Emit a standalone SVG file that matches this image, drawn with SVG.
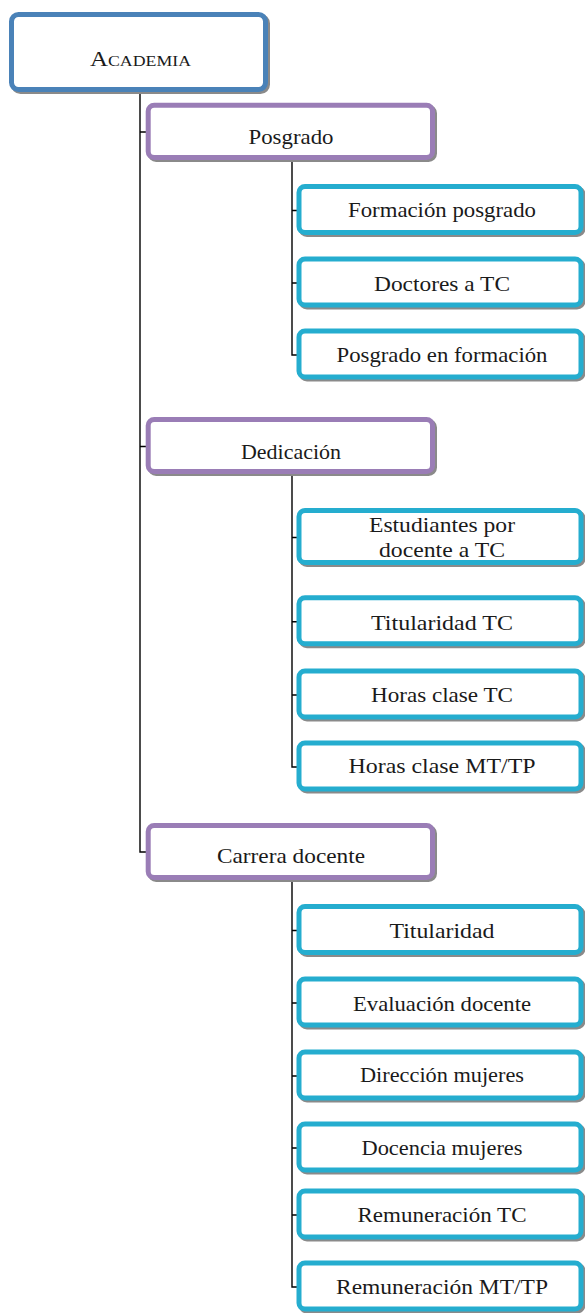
<svg xmlns="http://www.w3.org/2000/svg" width="585" height="1313" viewBox="0 0 585 1313">
<style>
.sh{fill:#8a8a8a;stroke:#8a8a8a;stroke-width:5}
.root{fill:#fff;stroke:#4a82b8;stroke-width:5}
.mid{fill:#fff;stroke:#9a7db6;stroke-width:5}
.leaf{fill:#fff;stroke:#25adcf;stroke-width:5}
text{font-family:"Liberation Serif","Times New Roman",serif;font-size:21px;fill:#1a1a1a;text-anchor:middle}
.sc{font-variant:small-caps}
.c{fill:none;stroke:#000;stroke-width:1.4}
</style>
<defs>
<rect id="lf" x="299" y="-24" width="282" height="46" rx="6"/>
</defs>
<g id="connectors">
<path class="c" d="M140,92V852H148M140,132H148M140,446.5H148"/>
<path class="c" d="M292,160V355H299M292,210.5H299M292,283H299"/>
<path class="c" d="M292,474V767H299M292,537.5H299M292,621.7H299M292,695H299"/>
<path class="c" d="M292,880V1287H299M292,930.5H299M292,1003H299M292,1076H299M292,1148H299M292,1215H299"/>
</g>
<g id="academia">
<rect class="sh" x="13.5" y="16.5" width="254" height="75" rx="7"/>
<rect class="root" x="11.5" y="14.5" width="254" height="75" rx="7"/>
<text class="sc" x="140.5" y="66" textLength="101" lengthAdjust="spacingAndGlyphs">Academia</text>
</g>
<g id="posgrado">
<rect class="sh" x="150.2" y="107.2" width="284.3" height="52.3" rx="6"/>
<rect class="mid" x="148.2" y="105.2" width="284.3" height="52.3" rx="6"/>
<text x="291" y="143.5" textLength="85" lengthAdjust="spacingAndGlyphs">Posgrado</text>
</g>
<g id="formacion-posgrado">
<use href="#lf" class="sh" x="2" y="212.5"/>
<use href="#lf" class="leaf" y="210.5"/>
<text x="442" y="216.5" textLength="188" lengthAdjust="spacingAndGlyphs">Formación posgrado</text>
</g>
<g id="doctores-tc">
<use href="#lf" class="sh" x="2" y="285"/>
<use href="#lf" class="leaf" y="283"/>
<text x="442" y="290.5" textLength="136" lengthAdjust="spacingAndGlyphs">Doctores a TC</text>
</g>
<g id="posgrado-formacion">
<use href="#lf" class="sh" x="2" y="357"/>
<use href="#lf" class="leaf" y="355"/>
<text x="442" y="361.7" textLength="211" lengthAdjust="spacingAndGlyphs">Posgrado en formación</text>
</g>
<g id="dedicacion">
<rect class="sh" x="150.2" y="421.5" width="284.3" height="52" rx="6"/>
<rect class="mid" x="148.2" y="419.5" width="284.3" height="52" rx="6"/>
<text x="291" y="459.3" textLength="100" lengthAdjust="spacingAndGlyphs">Dedicación</text>
</g>
<g id="estudiantes-docente">
<rect class="sh" x="301" y="512.5" width="282" height="52" rx="6"/>
<rect class="leaf" x="299" y="510.5" width="282" height="52" rx="6"/>
<text x="442" y="531.7" textLength="146" lengthAdjust="spacingAndGlyphs">Estudiantes por</text>
<text x="442" y="556.7" textLength="126" lengthAdjust="spacingAndGlyphs">docente a TC</text>
</g>
<g id="titularidad-tc">
<use href="#lf" class="sh" x="2" y="623.7"/>
<use href="#lf" class="leaf" y="621.7"/>
<text x="442" y="629.5" textLength="142" lengthAdjust="spacingAndGlyphs">Titularidad TC</text>
</g>
<g id="horas-tc">
<use href="#lf" class="sh" x="2" y="697"/>
<use href="#lf" class="leaf" y="695"/>
<text x="442" y="701.7" textLength="142" lengthAdjust="spacingAndGlyphs">Horas clase TC</text>
</g>
<g id="horas-mttp">
<use href="#lf" class="sh" x="2" y="769"/>
<use href="#lf" class="leaf" y="767"/>
<text x="442" y="773.3" textLength="187" lengthAdjust="spacingAndGlyphs">Horas clase MT/TP</text>
</g>
<g id="carrera-docente">
<rect class="sh" x="150.2" y="827.5" width="284.3" height="52" rx="6"/>
<rect class="mid" x="148.2" y="825.5" width="284.3" height="52" rx="6"/>
<text x="291" y="863.3" textLength="148" lengthAdjust="spacingAndGlyphs">Carrera docente</text>
</g>
<g id="titularidad">
<use href="#lf" class="sh" x="2" y="932.5"/>
<use href="#lf" class="leaf" y="930.5"/>
<text x="442" y="938" textLength="105" lengthAdjust="spacingAndGlyphs">Titularidad</text>
</g>
<g id="evaluacion-docente">
<use href="#lf" class="sh" x="2" y="1005"/>
<use href="#lf" class="leaf" y="1003"/>
<text x="442" y="1010.5" textLength="178" lengthAdjust="spacingAndGlyphs">Evaluación docente</text>
</g>
<g id="direccion-mujeres">
<use href="#lf" class="sh" x="2" y="1078"/>
<use href="#lf" class="leaf" y="1076"/>
<text x="442" y="1082" textLength="164" lengthAdjust="spacingAndGlyphs">Dirección mujeres</text>
</g>
<g id="docencia-mujeres">
<use href="#lf" class="sh" x="2" y="1150"/>
<use href="#lf" class="leaf" y="1148"/>
<text x="442" y="1154.5" textLength="161" lengthAdjust="spacingAndGlyphs">Docencia mujeres</text>
</g>
<g id="remuneracion-tc">
<use href="#lf" class="sh" x="2" y="1217"/>
<use href="#lf" class="leaf" y="1215"/>
<text x="442" y="1221.5" textLength="169" lengthAdjust="spacingAndGlyphs">Remuneración TC</text>
</g>
<g id="remuneracion-mttp">
<use href="#lf" class="sh" x="2" y="1289"/>
<use href="#lf" class="leaf" y="1287"/>
<text x="442" y="1293.5" textLength="212" lengthAdjust="spacingAndGlyphs">Remuneración MT/TP</text>
</g>
</svg>
